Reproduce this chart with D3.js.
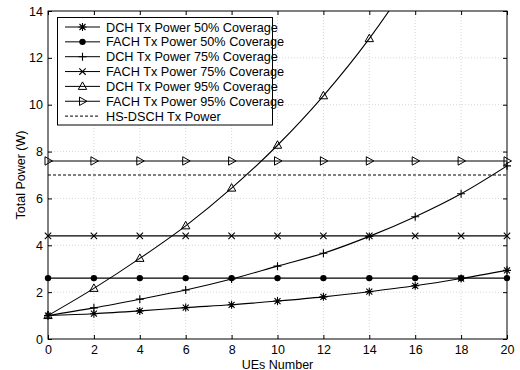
<!DOCTYPE html>
<html>
<head>
<meta charset="utf-8">
<script src="https://cdn.jsdelivr.net/npm/d3@7"></script>
<style>
  body { margin: 0; background: #fff; }
  text { font-family: "Liberation Sans", Arial, sans-serif; }
</style>
</head>
<body>
<script>
var w = 520, h = 370;
var margin = {top: 11, right: 13, bottom: 31, left: 48};

var ues = [0, 2, 4, 6, 8, 10, 12, 14, 16, 18, 20];
var dch50 = [1.0, 1.08, 1.2, 1.34, 1.46, 1.62, 1.8, 2.02, 2.27, 2.58, 2.93];
var fach50 = [2.6, 2.6, 2.6, 2.6, 2.6, 2.6, 2.6, 2.6, 2.6, 2.6, 2.6];
var dch75 = [1.0, 1.33, 1.7, 2.09, 2.56, 3.11, 3.66, 4.38, 5.22, 6.2, 7.39];
var fach75 = [4.4, 4.4, 4.4, 4.4, 4.4, 4.4, 4.4, 4.4, 4.4, 4.4, 4.4];
var dch95 = [1.0, 2.16, 3.44, 4.83, 6.44, 8.27, 10.38, 12.82, 15.7, 19.0, 22.6];
var fach95 = [7.6, 7.6, 7.6, 7.6, 7.6, 7.6, 7.6, 7.6, 7.6, 7.6, 7.6];
var hsdsch = [7.0, 7.0, 7.0, 7.0, 7.0, 7.0, 7.0, 7.0, 7.0, 7.0, 7.0];

var xTicks = [0, 2, 4, 6, 8, 10, 12, 14, 16, 18, 20];
var yTicks = [0, 2, 4, 6, 8, 10, 12, 14];

var series = [
    {name: "DCH Tx Power 50% Coverage", values: dch50, marker: "star"},
    {name: "FACH Tx Power 50% Coverage", values: fach50, marker: "dot"},
    {name: "DCH Tx Power 75% Coverage", values: dch75, marker: "plus"},
    {name: "FACH Tx Power 75% Coverage", values: fach75, marker: "cross"},
    {name: "DCH Tx Power 95% Coverage", values: dch95, marker: "triup"},
    {name: "FACH Tx Power 95% Coverage", values: fach95, marker: "triright"},
    {name: "HS-DSCH Tx Power", values: hsdsch, marker: "none", dash: "3,2"}
];

var xScale = d3.scaleLinear().domain([0, 20]).range([margin.left, w - margin.right]);
var yScale = d3.scaleLinear().domain([0, 14]).range([h - margin.bottom, margin.top]);

var svg = d3.select("body").append("svg")
    .attr("width", w)
    .attr("height", h);

svg.append("defs").append("clipPath").attr("id", "clip")
    .append("rect")
    .attr("x", margin.left).attr("y", margin.top)
    .attr("width", xScale(20) - xScale(0))
    .attr("height", yScale(0) - yScale(14));

// grid
var grid = svg.append("g").attr("stroke", "#cccccc").attr("stroke-dasharray", "1,2").attr("stroke-width", 0.8);
grid.selectAll(".gx").data(xTicks.slice(1, -1)).enter().append("line")
    .attr("x1", d => xScale(d)).attr("x2", d => xScale(d))
    .attr("y1", yScale(0)).attr("y2", yScale(14));
grid.selectAll(".gy").data(yTicks.slice(1, -1)).enter().append("line")
    .attr("x1", xScale(0)).attr("x2", xScale(20))
    .attr("y1", d => yScale(d)).attr("y2", d => yScale(d));

// axes, ticks pointing inward (matlab style)
svg.append("g")
    .attr("transform", "translate(0," + yScale(0) + ")")
    .call(d3.axisBottom(xScale).tickValues(xTicks).tickSize(-4).tickPadding(6).tickSizeOuter(0))
    .call(g => g.select(".domain").remove());
svg.append("g")
    .attr("transform", "translate(0," + yScale(14) + ")")
    .call(d3.axisTop(xScale).tickValues(xTicks).tickSize(-4).tickFormat("").tickSizeOuter(0))
    .call(g => g.select(".domain").remove());
svg.append("g")
    .attr("transform", "translate(" + xScale(0) + ",0)")
    .call(d3.axisLeft(yScale).tickValues(yTicks).tickSize(-4).tickPadding(5).tickSizeOuter(0))
    .call(g => g.select(".domain").remove());
svg.append("g")
    .attr("transform", "translate(" + xScale(20) + ",0)")
    .call(d3.axisRight(yScale).tickValues(yTicks).tickSize(-4).tickFormat("").tickSizeOuter(0))
    .call(g => g.select(".domain").remove());

svg.selectAll(".tick text").attr("font-size", "12.5px").attr("fill", "#000")
    .attr("font-family", "Liberation Sans, Arial, sans-serif");
svg.selectAll(".tick line").attr("stroke", "#000");

svg.append("rect")
    .attr("x", xScale(0)).attr("y", yScale(14))
    .attr("width", xScale(20) - xScale(0))
    .attr("height", yScale(0) - yScale(14))
    .attr("fill", "none").attr("stroke", "#000").attr("stroke-width", 1);

function drawMarker(g, type, x, y) {
    var s = 4;
    if (type === "star") {
        g.append("path").attr("d",
            "M" + (x - s) + "," + y + "H" + (x + s) +
            "M" + x + "," + (y - s) + "V" + (y + s) +
            "M" + (x - 3) + "," + (y - 3) + "L" + (x + 3) + "," + (y + 3) +
            "M" + (x - 3) + "," + (y + 3) + "L" + (x + 3) + "," + (y - 3))
            .attr("stroke", "#000").attr("stroke-width", 1.1).attr("fill", "none");
    } else if (type === "dot") {
        g.append("circle").attr("cx", x).attr("cy", y).attr("r", 3.2).attr("fill", "#000");
    } else if (type === "plus") {
        g.append("path").attr("d",
            "M" + (x - s) + "," + y + "H" + (x + s) +
            "M" + x + "," + (y - s) + "V" + (y + s))
            .attr("stroke", "#000").attr("stroke-width", 1.1);
    } else if (type === "cross") {
        g.append("path").attr("d",
            "M" + (x - 3.2) + "," + (y - 3.2) + "L" + (x + 3.2) + "," + (y + 3.2) +
            "M" + (x - 3.2) + "," + (y + 3.2) + "L" + (x + 3.2) + "," + (y - 3.2))
            .attr("stroke", "#000").attr("stroke-width", 1.1);
    } else if (type === "triup") {
        g.append("path").attr("d",
            "M" + x + "," + (y - 4.5) + "L" + (x + 4.2) + "," + (y + 3) + "L" + (x - 4.2) + "," + (y + 3) + "Z")
            .attr("stroke", "#000").attr("stroke-width", 1).attr("fill", "none");
    } else if (type === "triright") {
        g.append("path").attr("d",
            "M" + (x + 4.5) + "," + y + "L" + (x - 3) + "," + (y - 4.2) + "L" + (x - 3) + "," + (y + 4.2) + "Z")
            .attr("stroke", "#000").attr("stroke-width", 1).attr("fill", "none");
    }
}

var line = d3.line()
    .x((d, i) => xScale(ues[i]))
    .y(d => yScale(d))
    .curve(d3.curveMonotoneX);

var plot = svg.append("g").attr("clip-path", "url(#clip)");
series.forEach(function (s) {
    plot.append("path")
        .datum(s.values)
        .attr("d", line)
        .attr("fill", "none")
        .attr("stroke", "#000")
        .attr("stroke-width", s.dash ? 1 : 1.1)
        .attr("stroke-dasharray", s.dash || null);
});
var markers = svg.append("g");
series.forEach(function (s) {
    s.values.forEach(function (v, i) {
        if (v <= 14) drawMarker(markers, s.marker, xScale(ues[i]), yScale(v));
    });
});

// legend
var lg = svg.append("g");
lg.append("rect")
    .attr("x", 57.5).attr("y", 17.5).attr("width", 215).attr("height", 107.5)
    .attr("fill", "#fff").attr("stroke", "#000").attr("stroke-width", 1);
series.forEach(function (s, i) {
    var y = 27 + i * 14.85;
    lg.append("line")
        .attr("x1", 65).attr("x2", 100).attr("y1", y).attr("y2", y)
        .attr("stroke", "#000").attr("stroke-width", 1)
        .attr("stroke-dasharray", s.dash || null);
    drawMarker(lg, s.marker, 82.5, y);
    lg.append("text")
        .attr("x", 106).attr("y", y + 4.5)
        .attr("font-size", "12.7px")
        .text(s.name);
});

svg.append("text")
    .attr("x", xScale(10)).attr("y", 368.5)
    .attr("text-anchor", "middle").attr("font-size", "12.5px")
    .text("UEs Number");
svg.append("text")
    .attr("transform", "translate(25," + yScale(7) + ") rotate(-90)")
    .attr("text-anchor", "middle").attr("font-size", "12.5px")
    .text("Total Power (W)");
</script>
</body>
</html>
